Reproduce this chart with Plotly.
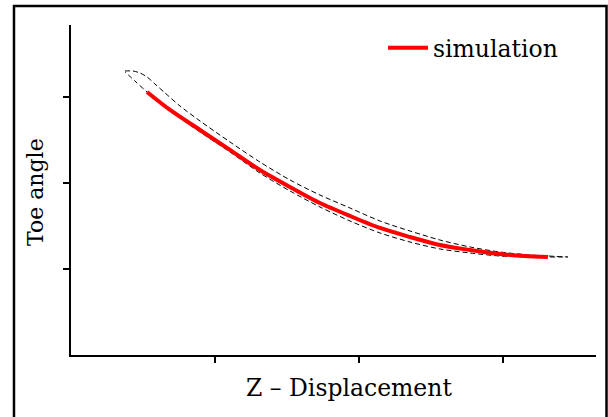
import plotly.graph_objects as go

# values, in pixels, then converted to axis units
# (x: 144 px per unit starting at x=71; y: 86 px per unit starting at y=355)
sim_px_x = [147, 170, 200, 230, 260, 290, 320, 350, 380, 410, 440, 470, 500, 525, 548]
sim_px_y = [92, 110, 130, 150, 170, 187, 203, 216, 228, 237, 245, 250, 254, 256, 257]

up_px_x = [125, 133, 140, 147, 155, 165, 180, 200, 230, 260, 290, 320, 350, 380, 410, 440, 470, 500, 530, 568]
up_px_y = [71, 71, 73, 77, 84, 93, 106, 121, 142, 162, 180, 195, 208, 221, 231, 240, 247, 252, 255, 257]

lo_px_x = [125, 135, 147, 170, 200, 230, 260, 290, 320, 350, 380, 410, 440, 470, 500, 530, 568]
lo_px_y = [72, 81, 92, 111, 132, 152, 173, 191, 207, 221, 233, 242, 249, 253, 256, 257, 257]

def cx(v):
    return [round((p - 71) / 144, 3) for p in v]

def cy(v):
    return [round((355 - p) / 86, 3) for p in v]

sim_x, sim_y = cx(sim_px_x), cy(sim_px_y)
loop_x = cx(up_px_x) + cx(lo_px_x[::-1])
loop_y = cy(up_px_y) + cy(lo_px_y[::-1])

x_ticks = [1, 2, 3]
y_ticks = [1, 2, 3]

FONT = "DejaVu Serif"

fig = go.Figure()
fig.add_trace(go.Scatter(x=loop_x, y=loop_y, mode="lines", showlegend=False,
                         line=dict(color="black", width=1, dash="5px,3px", shape="spline", smoothing=0.8)))
fig.add_trace(go.Scatter(x=sim_x, y=sim_y, mode="lines", name="simulation",
                         line=dict(color="#ff0000", width=4, shape="spline", smoothing=0.8)))

fig.update_layout(
    width=608, height=417,
    margin=dict(l=71, r=12, t=25, b=62),
    paper_bgcolor="white", plot_bgcolor="white",
    font=dict(family=FONT, size=21, color="black"),
    showlegend=True,
    legend=dict(x=(383 - 71) / 525, y=0.997, xanchor="left", yanchor="top", bgcolor="rgba(0,0,0,0)",
                itemwidth=40,
                font=dict(family=FONT, size=23.5, color="black")),
    xaxis=dict(range=[0, 3.646], showgrid=False, zeroline=False, showline=True,
               linecolor="black", linewidth=2, ticks="outside", ticklen=6, tickwidth=2,
               tickcolor="black", tickvals=x_ticks, showticklabels=False),
    yaxis=dict(range=[0, 3.837], showgrid=False, zeroline=False, showline=True,
               linecolor="black", linewidth=2, ticks="outside", ticklen=6, tickwidth=2,
               tickcolor="black", tickvals=y_ticks, showticklabels=False),
    shapes=[dict(type="rect", xref="paper", yref="paper",
                 x0=-0.1086, x1=1.02, y0=-0.25, y1=1.0576,
                 line=dict(color="black", width=2.5))],
    annotations=[
        dict(text="Z – Displacement", xref="paper", yref="paper", x=(349 - 71) / 525, y=(355 - 388) / 330,
             showarrow=False, xanchor="center", yanchor="middle", font=dict(family=FONT, size=23.5)),
        dict(text="Toe angle", xref="paper", yref="paper", x=(35 - 71) / 525, y=(355 - 192) / 330,
             showarrow=False, xanchor="center", yanchor="middle", textangle=-90, font=dict(family=FONT, size=22)),
    ],
)

fig.write_html("out.html")
